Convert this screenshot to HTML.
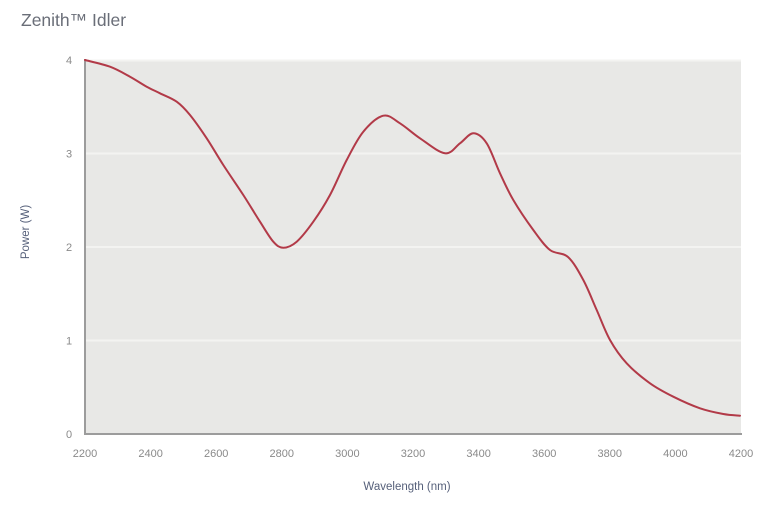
<!DOCTYPE html>
<html><head><meta charset="utf-8"><style>
html,body{margin:0;padding:0;background:#fff;}
body{width:764px;height:512px;overflow:hidden;}
svg{display:block;}
</style></head><body>
<svg width="764" height="512" viewBox="0 0 764 512" xmlns="http://www.w3.org/2000/svg">
<text x="21" y="26" font-family="Liberation Sans, sans-serif" font-size="17.5" fill="#6a6e78">Zenith™ Idler</text>
<rect x="85" y="60" width="656" height="374" fill="#e8e8e6"/>
<g stroke="#f3f3f1" stroke-width="2">
<line x1="86" y1="153.5" x2="741" y2="153.5"/>
<line x1="86" y1="247" x2="741" y2="247"/>
<line x1="86" y1="340.5" x2="741" y2="340.5"/>
<line x1="86" y1="60.5" x2="741" y2="60.5"/>
</g>
<line x1="85" y1="59" x2="85" y2="434" stroke="#9c9c9c" stroke-width="2"/>
<line x1="84" y1="434" x2="742" y2="434" stroke="#9c9c9c" stroke-width="2"/>
<g font-family="Liberation Sans, sans-serif" font-size="11" fill="#8a8a8a" text-anchor="middle">
<text x="69" y="64">4</text>
<text x="69" y="157.5">3</text>
<text x="69" y="251">2</text>
<text x="69" y="344.5">1</text>
<text x="69" y="438">0</text>
<text x="85" y="457">2200</text>
<text x="150.6" y="457">2400</text>
<text x="216.2" y="457">2600</text>
<text x="281.8" y="457">2800</text>
<text x="347.4" y="457">3000</text>
<text x="413" y="457">3200</text>
<text x="478.6" y="457">3400</text>
<text x="544.2" y="457">3600</text>
<text x="609.8" y="457">3800</text>
<text x="675.4" y="457">4000</text>
<text x="741" y="457">4200</text>
</g>
<text x="407" y="490" font-family="Liberation Sans, sans-serif" font-size="11.5" fill="#56607a" text-anchor="middle">Wavelength (nm)</text>
<text transform="translate(29,232) rotate(-90)" font-family="Liberation Sans, sans-serif" font-size="11.5" fill="#56607a" text-anchor="middle">Power (W)</text>
<polyline id="curve" fill="none" stroke="#b23a48" stroke-width="2" stroke-linejoin="round" stroke-linecap="round"
points="85,60 110,66.7 130,76.7 146.7,86.7 160,93.3 176.7,101.7 190,115 206.7,138.3 223.3,165 243.3,195 260,221.7 273.3,241.7 283.3,247.7 296.7,241.7 313.3,221.7 330,195 346.7,160 363.3,131.7 383.3,115.7 400,123.3 420,138.3 445,153.3 460,143.3 473.3,133.3 486.7,143.3 500,173.3 513.3,200 533.3,230 550,250 568,257 583.3,280 596.7,310 610,340 626.7,363.3 650,383.3 673.3,396.7 700,408.3 723.3,414 740,415.7"/>
</svg>
<script>
(function(){
var pl=document.getElementById('curve');
var s=pl.getAttribute('points').trim().split(/\s+/).map(function(p){var a=p.split(',');return [+a[0],+a[1]];});
var d='M'+s[0][0]+','+s[0][1];
for(var i=0;i<s.length-1;i++){
var p0=s[i-1]||s[i],p1=s[i],p2=s[i+1],p3=s[i+2]||s[i+1];
var c1x=p1[0]+(p2[0]-p0[0])/6,c1y=p1[1]+(p2[1]-p0[1])/6;
var c2x=p2[0]-(p3[0]-p1[0])/6,c2y=p2[1]-(p3[1]-p1[1])/6;
d+=' C'+c1x.toFixed(2)+','+c1y.toFixed(2)+' '+c2x.toFixed(2)+','+c2y.toFixed(2)+' '+p2[0]+','+p2[1];
}
var path=document.createElementNS('http://www.w3.org/2000/svg','path');
path.setAttribute('d',d);
path.setAttribute('fill','none');
path.setAttribute('stroke','#b23a48');
path.setAttribute('stroke-width','2');
path.setAttribute('stroke-linecap','round');
pl.parentNode.replaceChild(path,pl);
})();
</script>
</body></html>
